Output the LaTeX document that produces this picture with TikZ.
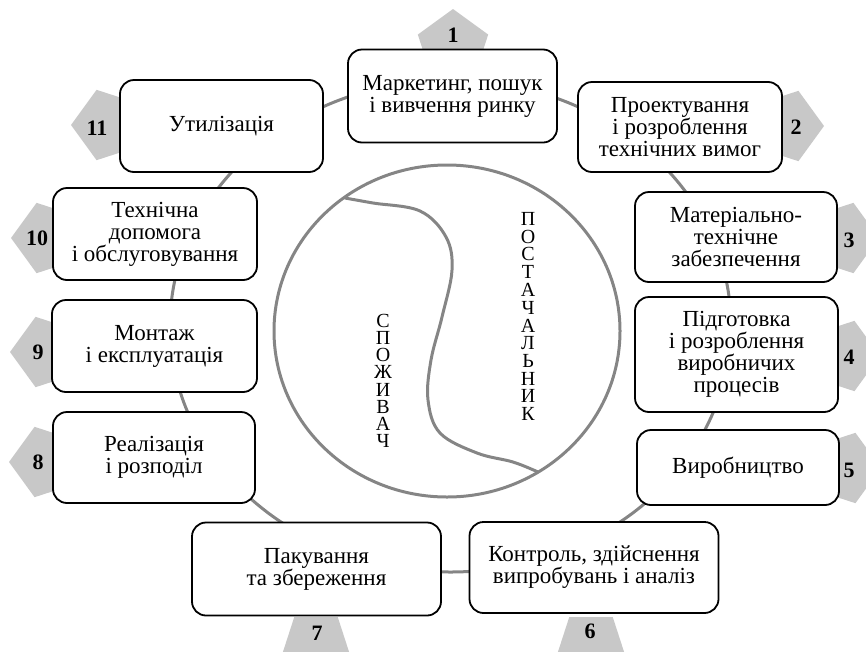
\documentclass[tikz,border=0pt]{standalone}
\usepackage{fontspec}
\setmainfont{Liberation Serif}
\usetikzlibrary{shapes.geometric}
\definecolor{ringgray}{HTML}{858585}
\definecolor{pentgray}{HTML}{C8C8C8}
\tikzset{
  stage/.style={draw=black, line width=1.8pt, rounded corners=14pt, fill=white,
    align=center, inner sep=0pt, font=\fontsize{23}{22}\selectfont},
  pent/.style={regular polygon, regular polygon sides=5, minimum size=74pt,
    fill=pentgray, inner sep=0pt},
  num/.style={font=\fontsize{22}{22}\selectfont\bfseries, inner sep=0pt},
  ring/.style={draw=ringgray, line width=3pt},
  letter/.style={inner sep=0pt, font=\fontsize{20}{20}\selectfont},
}
\begin{document}
\begin{tikzpicture}[x=1pt,y=-1pt]
\useasboundingbox (0,0) rectangle (866,651);
% pentagons
\node[pent] (p1) at (453,46) {};
\node[pent, shape border rotate=-90] (p2) at (787,126) {};
\node[pent, shape border rotate=-90] (p3) at (842,238) {};
\node[pent, shape border rotate=-90] (p4) at (843,356) {};
\node[pent, shape border rotate=-90] (p5) at (844,468) {};
\node[pent, shape border rotate=180] (p6) at (591,647) {};
\node[pent, shape border rotate=180] (p7) at (316,647) {};
\node[pent, shape border rotate=90] (p8) at (46,462) {};
\node[pent, shape border rotate=90] (p9) at (47,352) {};
\node[pent, shape border rotate=90] (p10) at (48,238) {};
\node[pent, shape border rotate=90] (p11) at (108,125) {};
% ring
\draw[ring] (450.5,326) ellipse [x radius=280.5, y radius=246];
% boxes
\node[stage, minimum width=209pt, minimum height=93pt] (b1) at (452.5,96) {Маркетинг, пошук\\і вивчення ринку};
\node[stage, minimum width=204pt, minimum height=90pt] (b2) at (680,127) {Проектування\\і розроблення\\технічних вимог};
\node[stage, minimum width=202pt, minimum height=90pt] (b3) at (736,237) {Матеріально-\\технічне\\забезпечення};
\node[stage, minimum width=203pt, minimum height=115pt] (b4) at (736.5,354.5) {Підготовка\\і розроблення\\виробничих\\процесів};
\node[stage, minimum width=202pt, minimum height=75pt] (b5) at (738,467.5) {Виробництво};
\node[stage, minimum width=249pt, minimum height=91pt] (b6) at (594,567.5) {Контроль, здійснення\\випробувань і аналіз};
\node[stage, minimum width=249pt, minimum height=93pt] (b7) at (316.5,569) {Пакування\\та збереження};
\node[stage, minimum width=202pt, minimum height=91pt] (b8) at (154,457.5) {Реалізація\\і розподіл};
\node[stage, minimum width=205pt, minimum height=92pt] (b9) at (154.5,346) {Монтаж\\і експлуатація};
\node[stage, minimum width=204pt, minimum height=92pt] (b10) at (155,234) {Технічна\\допомога\\і обслуговування};
\node[stage, minimum width=203pt, minimum height=92pt] (b11) at (221.5,126) {Утилізація};
% numbers
\node[num] (n1) at (453,35) {1};
\node[num] (n2) at (796,127) {2};
\node[num] (n3) at (849,240) {3};
\node[num] (n4) at (849,357) {4};
\node[num] (n5) at (849,470) {5};
\node[num] (n6) at (590,631) {6};
\node[num] (n7) at (317,633) {7};
\node[num] (n8) at (38,462) {8};
\node[num] (n9) at (38,352) {9};
\node[num] (n10) at (37,238) {10};
\node[num] (n11) at (97,128) {11};
% inner circle
\draw[ring] (447,331) ellipse [x radius=173, y radius=166];
\draw[ring, line cap=round] plot[smooth, tension=0.6] coordinates {(345,198) (373,203) (420,211) (446,237) (452,270) (442,317) (431,360) (428,400) (440,433) (477,453) (513,462) (538,472)};
% vertical words
\foreach \ch [count=\i] in {П,О,С,Т,А,Ч,А,Л,Ь,Н,И,К}
  \node[letter] (sup\i) at (528,{210+8.9+(\i-1)*17.75}) {\ch};
\foreach \ch [count=\i] in {С,П,О,Ж,И,В,А,Ч}
  \node[letter] (con\i) at (383,{312+8.6+(\i-1)*17.25}) {\ch};
\end{tikzpicture}
\end{document}
